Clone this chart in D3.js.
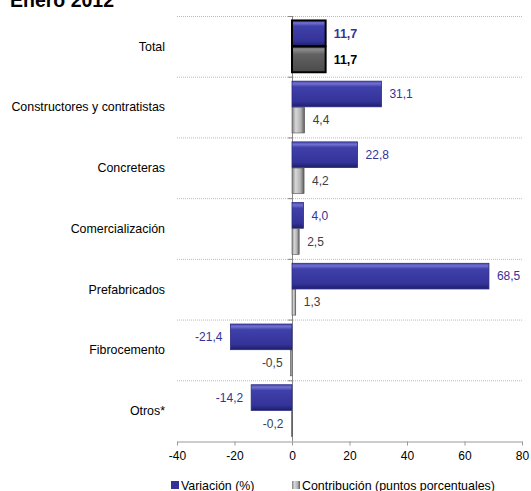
<!DOCTYPE html>
<html><head><meta charset="utf-8">
<script src="https://cdn.jsdelivr.net/npm/d3@7"></script>
<style>body{margin:0;background:#fff}svg{display:block;font-family:"Liberation Sans",Arial,sans-serif}</style>
</head><body>
<script>
const categories = ["Total","Constructores y contratistas","Concreteras","Comercialización","Prefabricados","Fibrocemento","Otros*"];
const variacion = [11.7,31.1,22.8,4.0,68.5,-21.4,-14.2];
const contribucion = [11.7,4.4,4.2,2.5,1.3,-0.5,-0.2];
const xTicks = [-40,-20,0,20,40,60,80];
const seriesNames = ["Variación (%)","Contribución (puntos porcentuales)"];
const title = "Enero 2012";

const W=531,H=491;
const svg=d3.select("body").append("svg").attr("width",W).attr("height",H);
const defs=svg.append("defs");
function grad(id,stops){const g=defs.append("linearGradient").attr("id",id).attr("x1",0).attr("y1",0).attr("x2",0).attr("y2",1);
 stops.forEach(s=>g.append("stop").attr("offset",s[0]).attr("stop-color",s[1]));}
grad("gBlue",[[0,"#4a4ab0"],[0.1,"#7070d0"],[0.22,"#4040aa"],[0.8,"#333399"],[1,"#1e1e6a"]]);
const hg=defs.append("linearGradient").attr("id","gGrayH").attr("x1",0).attr("y1",0).attr("x2",1).attr("y2",0);
[[0,"#808080"],[0.3,"#d8d8d8"],[0.7,"#b0b0b0"],[1,"#5a5a5a"]].forEach(s=>hg.append("stop").attr("offset",s[0]).attr("stop-color",s[1]));
grad("gDark",[[0,"#6a6a6a"],[0.12,"#8a8a8a"],[0.3,"#626262"],[1,"#4a4a4a"]]);

const x=d3.scaleLinear().domain([-40,80]).range([177,522]);
const y=d3.scaleBand().domain(categories).range([16,441]);
const sub=d3.scaleBand().domain([0,1]).range([0,y.bandwidth()]).paddingOuter(0.17).paddingInner(0.02);

svg.append("text").attr("x",10).attr("y",7).attr("font-size",19.5).attr("font-weight","bold").attr("fill","#000").text(title);

// gridlines
const bounds=categories.map(c=>y(c));
svg.append("g").selectAll("line").data(bounds).join("line")
 .attr("x1",x(-40)).attr("x2",x(80)).attr("y1",d=>d+0.5).attr("y2",d=>d+0.5)
 .attr("stroke","#bbb").attr("stroke-dasharray","1,1");

// x axis
const xa=svg.append("g").attr("transform","translate(0,441.5)")
 .call(d3.axisBottom(x).tickValues(xTicks).tickSize(4).tickSizeOuter(0).tickFormat(d=>String(d)));
xa.select(".domain").attr("stroke","#999");
xa.selectAll(".tick line").attr("stroke","#999");
xa.selectAll("text").attr("font-size",12).attr("fill","#000").attr("dy","0.95em").attr("font-family","Liberation Sans, Arial");

// y axis at zero
svg.append("line").attr("x1",x(0)+0.5).attr("x2",x(0)+0.5).attr("y1",16).attr("y2",441).attr("stroke","#888");
svg.append("g").selectAll("line").data(bounds).join("line")
 .attr("x1",x(0)-4).attr("x2",x(0)).attr("y1",d=>d+0.5).attr("y2",d=>d+0.5).attr("stroke","#888");

// category labels
svg.append("g").selectAll("text").data(categories).join("text")
 .attr("x",165).attr("y",d=>y(d)+y.bandwidth()/2).attr("dy","0.35em").attr("text-anchor","end")
 .attr("font-size",12.4).attr("fill","#000").text(d=>d);

const data=categories.map((c,i)=>({c,i,v:variacion[i],k:contribucion[i]}));
const gb=svg.append("g");
// blue bars
gb.selectAll("rect.b").data(data).join("rect").attr("class","b")
 .attr("x",d=>x(Math.min(0,d.v))).attr("width",d=>Math.abs(x(d.v)-x(0)))
 .attr("y",d=>y(d.c)+sub(0)).attr("height",sub.bandwidth())
 .attr("fill","url(#gBlue)").attr("stroke",d=>d.i===0?"#000":"#2a2a80").attr("stroke-width",d=>d.i===0?2:0.8);
// gray bars
gb.selectAll("rect.g").data(data).join("rect").attr("class","g")
 .attr("x",d=>x(Math.min(0,d.k))).attr("width",d=>Math.max(1,Math.abs(x(d.k)-x(0))))
 .attr("y",d=>y(d.c)+sub(1)).attr("height",sub.bandwidth())
 .attr("fill",d=>d.i===0?"url(#gDark)":"url(#gGrayH)").attr("stroke",d=>d.i===0?"#000":"#555").attr("stroke-width",d=>d.i===0?2:0.6);

// labels
const fmt=v=>(v<0?"-":"")+d3.format(".1f")(Math.abs(v)).replace(".",",");
gb.selectAll("text.bl").data(data).join("text").attr("class","bl")
 .attr("x",d=>d.v>=0?x(d.v)+8:x(d.v)-8).attr("text-anchor",d=>d.v>=0?"start":"end")
 .attr("y",d=>y(d.c)+sub(0)+sub.bandwidth()/2).attr("dy","0.35em")
 .attr("font-size",d=>d.i===0?12.5:12).attr("font-weight",d=>d.i===0?"bold":"normal")
 .attr("fill","#333399").text(d=>fmt(d.v));
gb.selectAll("text.gl").data(data).join("text").attr("class","gl")
 .attr("x",d=>d.k>=0?x(d.k)+8:x(d.k)-8).attr("text-anchor",d=>d.k>=0?"start":"end")
 .attr("y",d=>y(d.c)+sub(1)+sub.bandwidth()/2).attr("dy","0.35em")
 .attr("font-size",d=>d.i===0?12.5:12).attr("font-weight",d=>d.i===0?"bold":"normal")
 .attr("fill",d=>d.i===0?"#000":"#404040").text(d=>fmt(d.k));

// legend
const lg=svg.append("g");
const lx=[171,292];
lg.selectAll("rect").data(seriesNames).join("rect")
 .attr("x",(d,i)=>lx[i]).attr("y",481).attr("width",8).attr("height",8)
 .attr("fill",(d,i)=>i===0?"#333399":"url(#gGrayH)");
lg.selectAll("text").data(seriesNames).join("text")
 .attr("x",(d,i)=>lx[i]+10).attr("y",489.5).attr("font-size",12.4).attr("fill","#000").text(d=>d);
</script>
</body></html>
